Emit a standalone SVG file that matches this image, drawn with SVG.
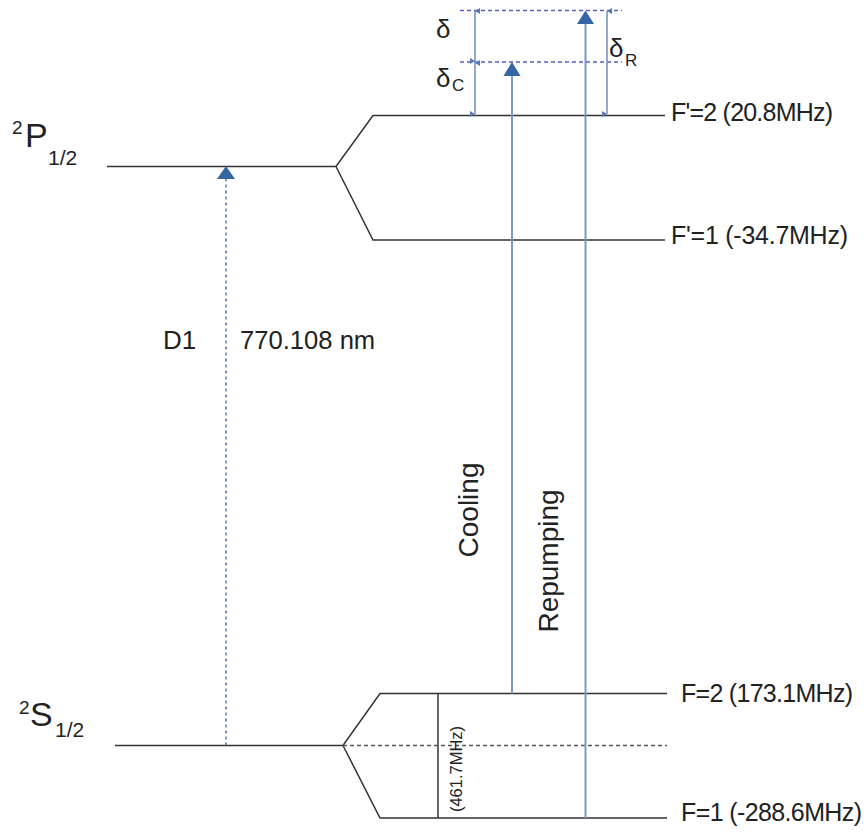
<svg xmlns="http://www.w3.org/2000/svg" width="864" height="832" viewBox="0 0 864 832">
<style>
.lvl{stroke:#333;stroke-width:1.5;fill:none}
.t{font-family:"Liberation Sans",Arial,sans-serif;fill:#222}
.lbl{font-size:25px}
.beam{stroke:#7d98c4;stroke-width:2;fill:none}
.dash{stroke:#5a5fc0;stroke-width:1.3;stroke-dasharray:4,3;fill:none}
.det{stroke:#6f8bbf;stroke-width:1.5;fill:none}
</style>
<defs>
<marker id="small" markerUnits="userSpaceOnUse" markerWidth="6" markerHeight="5" viewBox="0 0 6 5" refX="3" refY="0" orient="auto-start-reverse">
<path d="M0,5 L3,0 L6,5 Z" fill="#5a78b0"/>
</marker>
</defs>
<rect width="864" height="832" fill="#fff"/>

<g id="P12">
<path class="lvl" d="M107,166.5 H336 L373,115.5 H665 M336,166.5 L373,240 H665"/>
<text class="t" x="12" y="134" font-size="19">2</text>
<text class="t" x="25" y="147" font-size="34">P</text>
<text class="t" x="48" y="165" font-size="21">1/2</text>
</g>

<g id="S12">
<path class="lvl" d="M115,745.5 H343 L380,693.5 H667 M343,745.5 L380,818 H667"/>
<path class="lvl" d="M438,693.5 V818"/>
<path d="M343,745.5 H667" stroke="#555" stroke-width="1.3" stroke-dasharray="4,3" fill="none"/>
<text class="t" x="19" y="714" font-size="19">2</text>
<text class="t" x="30" y="726" font-size="34">S</text>
<text class="t" x="55" y="737" font-size="21">1/2</text>
<text class="t" font-size="16.5" text-anchor="middle" transform="translate(462,769) rotate(-90)">(461.7MHz)</text>
</g>

<g id="labels">
<text class="t lbl" x="671" y="121" textLength="162">F'=2 (20.8MHz)</text>
<text class="t lbl" x="671" y="244" textLength="177">F'=1 (-34.7MHz)</text>
<text class="t lbl" x="681" y="702" textLength="172">F=2 (173.1MHz)</text>
<text class="t lbl" x="681" y="821" textLength="181">F=1 (-288.6MHz)</text>
</g>

<g id="connectors">
<path d="M226,745.5 V179" stroke="#5577aa" stroke-width="1.5" stroke-dasharray="3,3" fill="none"/>
<path d="M217,179 L226,166 L235,179 Z" fill="#3465a4"/>
<path class="beam" d="M512,693.5 V76"/>
<path d="M503.5,76 L512,62 L520.5,76 Z" fill="#3465a4"/>
<path class="beam" d="M585.5,818 V24"/>
<path d="M577,24 L585.5,10.5 L594,24 Z" fill="#3465a4"/>
<path class="dash" d="M460,10.5 H622 M460,62 H622"/>
<path class="det" d="M475,11 V61" marker-start="url(#small)" marker-end="url(#small)"/>
<path class="det" d="M475,63 V114" marker-start="url(#small)" marker-end="url(#small)"/>
<path class="det" d="M607,11 V114" marker-start="url(#small)" marker-end="url(#small)"/>
</g>

<g id="texts">
<text class="t" x="163" y="349" font-size="26">D1</text>
<text class="t" x="240" y="349" font-size="25.6">770.108 nm</text>
<text class="t" font-size="28" text-anchor="middle" transform="translate(478,510) rotate(-90)">Cooling</text>
<text class="t" font-size="28" text-anchor="middle" transform="translate(558,561) rotate(-90)">Repumping</text>
<text class="t" x="436" y="38" font-size="26">δ</text>
<text class="t" x="436" y="87" font-size="26">δ</text>
<text class="t" x="452" y="91" font-size="17">C</text>
<text class="t" x="609" y="57" font-size="26">δ</text>
<text class="t" x="625" y="66" font-size="17">R</text>
</g>
</svg>
